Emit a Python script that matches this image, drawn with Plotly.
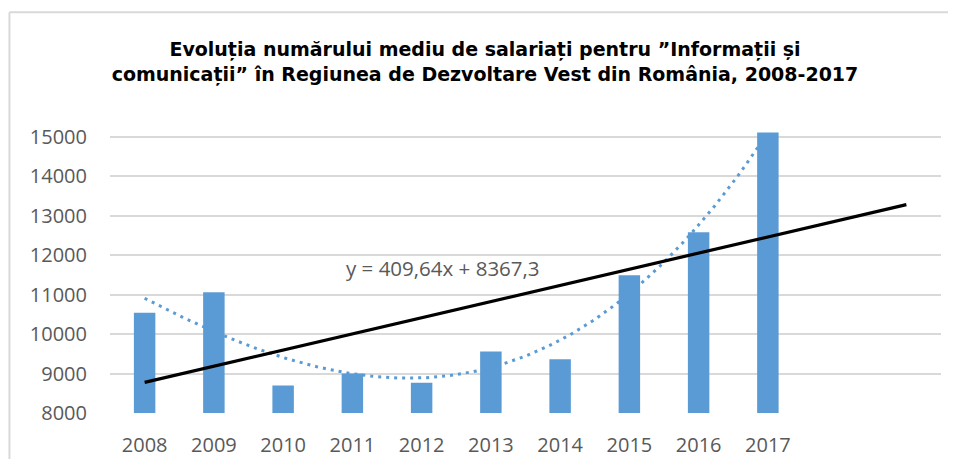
import numpy as np
import plotly.graph_objects as go

years = ["2008", "2009", "2010", "2011", "2012", "2013", "2014", "2015", "2016", "2017"]
employees = [10540, 11060, 8700, 9000, 8765, 9560, 9360, 11490, 12580, 15110]
trend_slope = 409.64
trend_intercept = 8367.3
trend_label = "y = 409,64x + 8367,3"
title_text = ("Evoluția numărului mediu de salariați pentru ”Informații și<br>"
              "comunicații” în Regiunea de Dezvoltare Vest din România, 2008-2017")

idx = np.arange(1, len(years) + 1)

# linear trendline (forecast forward 2 periods)
lin_x = np.array([1, len(years) + 2])
lin_y = trend_slope * lin_x + trend_intercept

# polynomial (order 3) trendline
coef = np.polyfit(idx, employees, 3)
poly_x = np.linspace(1, len(years), 200)
poly_y = np.polyval(coef, poly_x)

blue = "#5B9BD5"
grid = "#D9D9D9"
txt = "#595959"
font_main = "Open Sans"

W, H = 940, 451

fig = go.Figure()
fig.add_trace(go.Bar(x=idx, y=employees, width=0.31, marker=dict(color=blue, line=dict(width=0)),
                     showlegend=False))
fig.add_trace(go.Scatter(x=poly_x, y=poly_y, mode="lines",
                         line=dict(color=blue, width=3, dash="3px,5px"), showlegend=False))
fig.add_trace(go.Scatter(x=lin_x, y=lin_y, mode="lines",
                         line=dict(color="black", width=3.2), showlegend=False))

fig.update_layout(
    width=W, height=H,
    margin=dict(l=102, r=7, t=119, b=46),
    plot_bgcolor="white", paper_bgcolor="white",
    title=dict(text=title_text, x=477 / W, xref="container", xanchor="center",
               y=1 - 48 / H, yref="container", yanchor="middle",
               font=dict(family="DejaVu Sans", size=19, color="black", weight="bold")),
    xaxis=dict(range=[0.5, len(years) + 2.5], tickmode="array", tickvals=idx, ticktext=years,
               showgrid=False, zeroline=False, showline=False, ticks="", ticklabelstandoff=18,
               automargin=False, tickfont=dict(family=font_main, size=20, color=txt)),
    yaxis=dict(range=[8000, 15250], tick0=8000, dtick=1000, tickformat="d", showgrid=True,
               gridcolor=grid, gridwidth=2, zeroline=False, showline=False, ticks="",
               ticklabelstandoff=22, automargin=False,
               tickfont=dict(family=font_main, size=20, color=txt)),
    annotations=[dict(x=5.31, y=11673, xref="x", yref="y", text=trend_label, showarrow=False,
                      font=dict(family=font_main, size=20.5, color=txt))],
    shapes=[dict(type="line", xref="paper", yref="paper", x0=-0.121, x1=1.2, y0=1.401, y1=1.401,
                 line=dict(color=grid, width=2)),
            dict(type="line", xref="paper", yref="paper", x0=-0.121, x1=-0.121, y0=-0.3, y1=1.401,
                 line=dict(color=grid, width=2))],
)

fig.write_html("out.html")
